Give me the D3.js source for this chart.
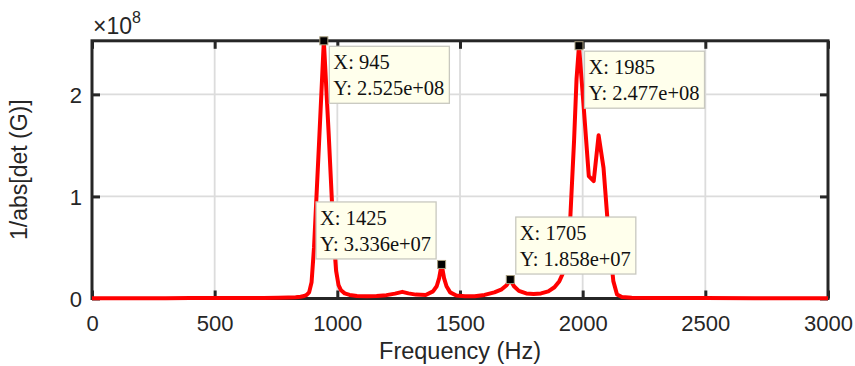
<!DOCTYPE html>
<html>
<head>
<meta charset="utf-8">
<script src="https://cdn.jsdelivr.net/npm/d3@7"></script>
<style>
  html, body { margin: 0; padding: 0; background: #ffffff; }
  svg { display: block; }
</style>
</head>
<body>
<svg id="chart" width="855" height="366"></svg>
<script>
// Frequency sweep of 1/|det(G)|
const freqHz = [
  0, 100, 200, 300, 400, 500, 600, 700, 760, 800, 830, 850, 865, 875, 885, 895,
  905, 925, 945, 965, 985, 995, 1005, 1015, 1030, 1050, 1080, 1120, 1160, 1200,
  1235, 1265, 1290, 1320, 1360, 1390, 1405, 1415, 1425, 1435, 1445, 1460, 1485,
  1520, 1560, 1600, 1640, 1670, 1690, 1705, 1720, 1740, 1770, 1800, 1830, 1860,
  1885, 1905, 1920, 1935, 1950, 1965, 1975, 1985, 2005, 2025, 2045, 2065, 2085,
  2105, 2125, 2140, 2160, 2200, 2300, 2500, 2700, 3000
];
const invDetG = [
  3e5, 3e5, 3e5, 3e5, 4e5, 4e5, 5e5, 6e5, 8e5, 1.0e6, 1.3e6, 1.7e6, 2.4e6, 3.5e6, 6e6, 1.6e7,
  5.0e7, 1.5e8, 2.525e8, 1.6e8, 6.0e7, 2.7e7, 1.3e7, 8e6, 5e6, 3.5e6, 2.5e6, 2.2e6, 2.5e6, 3.3e6,
  4.8e6, 6.5e6, 5.0e6, 3.8e6, 3.5e6, 7e6, 1.2e7, 2.0e7, 3.336e7, 2.0e7, 1.2e7, 6e6, 3e6,
  2.2e6, 2.2e6, 3.5e6, 6e6, 9e6, 1.3e7, 1.858e7, 1.2e7, 7.5e6, 5e6, 4.5e6, 5e6, 7e6,
  1.1e7, 1.7e7, 2.5e7, 4.2e7, 8.1e7, 1.55e8, 2.15e8, 2.477e8, 1.85e8, 1.2e8, 1.15e8, 1.6e8, 1.28e8,
  6.5e7, 1.7e7, 4e6, 1.5e6, 8e5, 5e5, 4e5, 3e5, 3e5
];

// Data tips
const tipFreq  = [945, 1425, 1705, 1985];
const tipValue = [2.525e8, 3.336e7, 1.858e7, 2.477e8];
const tipSide  = ["br", "tl", "tr", "br"];

// Axes
const xTicks = [0, 500, 1000, 1500, 2000, 2500, 3000];
const yTicks = [0, 1e8, 2e8];
const yTickLabels = ["0", "1", "2"];
const yExponent = 8;
const xDomain = [0, 3000];
const yDomain = [0, 2.525e8];
const xLabel = "Frequency (Hz)";
const yLabel = "1/abs[det (G)]";

const plot = { left: 92, right: 828, top: 40.8, bottom: 298.5 };
const axisColor = "#262626";
const sansFont = "'Liberation Sans', Arial, Helvetica, sans-serif";
const serifFont = "'Liberation Serif', 'Times New Roman', serif";

const svg = d3.select("#chart");

const x = d3.scaleLinear().domain(xDomain).range([plot.left, plot.right]);
const y = d3.scaleLinear().domain(yDomain).range([plot.bottom, plot.top]);

// Grid
const grid = svg.append("g");
grid.selectAll("line.gx")
  .data(xTicks.filter(t => t > xDomain[0] && t < xDomain[1]))
  .join("line")
  .attr("x1", d => x(d)).attr("x2", d => x(d))
  .attr("y1", plot.top).attr("y2", plot.bottom)
  .attr("stroke", "#dcdcdc").attr("stroke-width", 1.8);
grid.selectAll("line.gy")
  .data(yTicks.filter(t => t > yDomain[0]))
  .join("line")
  .attr("x1", plot.left).attr("x2", plot.right)
  .attr("y1", d => y(d)).attr("y2", d => y(d))
  .attr("stroke", "#dcdcdc").attr("stroke-width", 1.8);

// Axis box with inward ticks on all four sides
const tickLen = 8;
const axes = svg.append("g");
const xBottom = d3.axisBottom(x).tickValues(xTicks).tickSize(-tickLen).tickFormat(d => d).tickPadding(17);
const xTop = d3.axisTop(x).tickValues(xTicks).tickSize(-tickLen).tickFormat("");
const yLeft = d3.axisLeft(y).tickValues(yTicks).tickSize(-tickLen)
  .tickFormat((d, i) => yTickLabels[i]).tickPadding(10);
const yRight = d3.axisRight(y).tickValues(yTicks).tickSize(-tickLen).tickFormat("");

function styleAxis(g) {
  g.select(".domain").remove();
  g.selectAll(".tick line").attr("stroke", axisColor).attr("stroke-width", 3);
  g.selectAll(".tick text")
    .attr("fill", axisColor)
    .style("font-family", sansFont)
    .style("font-size", "22px");
}
axes.append("g").attr("transform", `translate(0,${plot.bottom})`).call(xBottom).call(styleAxis);
axes.append("g").attr("transform", `translate(0,${plot.top})`).call(xTop).call(styleAxis);
axes.append("g").attr("transform", `translate(${plot.left},0)`).call(yLeft).call(styleAxis)
  .selectAll(".tick text").attr("dy", "0.36em");
axes.append("g").attr("transform", `translate(${plot.right},0)`).call(yRight).call(styleAxis);

axes.append("rect")
  .attr("x", plot.left).attr("y", plot.top)
  .attr("width", plot.right - plot.left).attr("height", plot.bottom - plot.top)
  .attr("fill", "none").attr("stroke", axisColor).attr("stroke-width", 3);

// Exponent label
const expLabel = svg.append("text")
  .attr("x", 93).attr("y", 34)
  .attr("fill", axisColor)
  .style("font-family", sansFont)
  .style("font-size", "23px");
expLabel.append("tspan").style("font-size", "23px").text("\u00d710");
expLabel.append("tspan").attr("dy", -11).style("font-size", "16px").text(String(yExponent));

// Axis titles
svg.append("text")
  .attr("x", (plot.left + plot.right) / 2).attr("y", 359)
  .attr("text-anchor", "middle")
  .attr("fill", axisColor)
  .style("font-family", sansFont).style("font-size", "23.5px")
  .text(xLabel);
svg.append("text")
  .attr("transform", `translate(27,${(plot.top + plot.bottom) / 2}) rotate(-90)`)
  .attr("text-anchor", "middle")
  .attr("fill", axisColor)
  .style("font-family", sansFont).style("font-size", "23px")
  .text(yLabel);

// Response curve
const series = freqHz.map((f, i) => [f, invDetG[i]]);
svg.append("path")
  .datum(series)
  .attr("fill", "none")
  .attr("stroke", "#ff0000")
  .attr("stroke-width", 4)
  .attr("stroke-linejoin", "round")
  .attr("d", d3.line().x(d => x(d[0])).y(d => y(d[1])));

// Data tips
function fmtExp(v) {
  const [m, e] = v.toExponential(3).split("e");
  const sign = e[0] === "-" ? "-" : "+";
  const digits = e.replace(/[+-]/, "").padStart(2, "0");
  return `${m}e${sign}${digits}`;
}

const tips = svg.append("g");
const off = 5.5, boxH = 57, padX = 4;
tipFreq.forEach((f, i) => {
  const mx = x(f), my = y(tipValue[i]);
  const g = tips.append("g");
  const rect = g.append("rect")
    .attr("fill", "#ffffec")
    .attr("stroke", "#c8c8bf")
    .attr("stroke-width", 1.3);
  const txt = g.append("text")
    .attr("fill", "#111111")
    .style("font-family", serifFont)
    .style("font-size", "20.5px");
  txt.append("tspan").attr("x", 0).attr("y", 23).text(`X: ${f}`);
  txt.append("tspan").attr("x", 0).attr("y", 49).text(`Y: ${fmtExp(tipValue[i])}`);
  const w = Math.max(...txt.selectAll("tspan").nodes().map(n => n.getComputedTextLength())) + 2 * padX + 1;
  let bx, by;
  const side = tipSide[i];
  if (side === "br") { bx = mx + off; by = my + off; }
  else if (side === "tl") { bx = mx - off - w; by = my - off - boxH; }
  else { bx = mx + off; by = my - off - boxH; }
  rect.attr("x", bx).attr("y", by).attr("width", w).attr("height", boxH);
  txt.attr("transform", `translate(${bx + padX},${by})`);
  g.append("rect")
    .attr("x", mx - 4).attr("y", my - 4)
    .attr("width", 8).attr("height", 8)
    .attr("fill", "#000000")
    .attr("stroke", "#a79d7e")
    .attr("stroke-width", 1);
});
</script>
</body>
</html>
